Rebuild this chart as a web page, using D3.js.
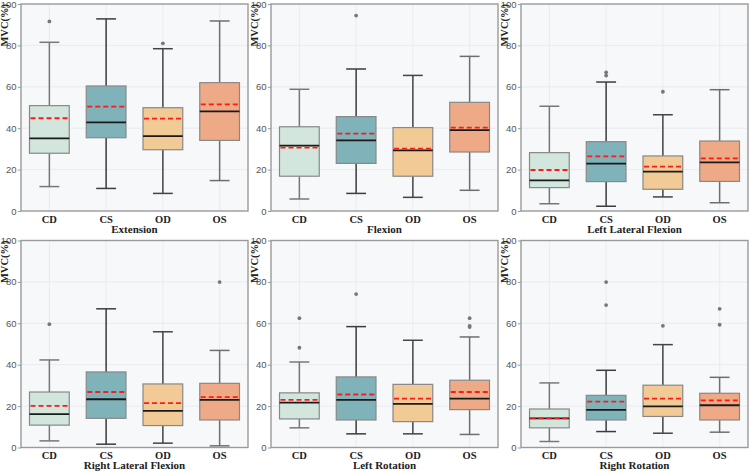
<!DOCTYPE html>
<html>
<head>
<meta charset="utf-8">
<script src="https://cdn.jsdelivr.net/npm/d3@7"></script>
<style>
  body { margin: 0; background: #fff; }
  .tick text { font-family: "Liberation Sans", Arial, sans-serif; font-size: 9.5px; fill: #555; }
  .catLb { font-family: "Liberation Serif", "Times New Roman", serif; font-weight: bold; font-size: 10.5px; fill: #222; }
  .titleLb { font-family: "Liberation Serif", "Times New Roman", serif; font-weight: bold; font-size: 11px; fill: #222; }
  .axisLb { font-family: "Liberation Serif", "Times New Roman", serif; font-weight: bold; font-size: 10.5px; fill: #222; }
</style>
</head>
<body>
<div id="main"></div>
<script>
// categories and panels
const groups = ["CD", "CS", "OD", "OS"];
const motions = ["Extension", "Flexion", "Left Lateral Flexion",
                 "Right Lateral Flexion", "Left Rotation", "Right Rotation"];
const yTicks = [0, 20, 40, 60, 80, 100];

// box statistics, one row per motion, one value per group (CD, CS, OD, OS)
const whiskerLow = [
  [11.8, 10.9, 8.5, 14.7],
  [5.8, 8.5, 6.6, 10.0],
  [3.5, 2.3, 6.8, 4.0],
  [3.2, 1.6, 2.1, 0.8],
  [9.5, 6.6, 6.6, 6.3],
  [2.9, 7.7, 6.9, 7.4]
];
const q1 = [
  [27.9, 35.4, 29.6, 34.1],
  [16.8, 23.0, 16.8, 28.5],
  [11.3, 14.2, 10.5, 14.3],
  [10.8, 14.1, 10.6, 13.3],
  [13.8, 13.3, 12.5, 18.3],
  [9.5, 13.3, 15.0, 13.3]
];
const medians = [
  [35.1, 42.8, 36.2, 48.1],
  [31.6, 34.1, 29.3, 39.1],
  [14.8, 22.9, 19.0, 23.5],
  [16.1, 23.3, 17.7, 23.0],
  [21.7, 23.0, 21.1, 23.6],
  [14.1, 18.2, 19.9, 20.4]
];
const q3 = [
  [50.9, 60.4, 49.9, 62.0],
  [40.7, 45.6, 40.3, 52.5],
  [28.2, 33.5, 26.6, 33.8],
  [26.8, 36.5, 30.7, 31.0],
  [26.4, 34.1, 30.5, 32.5],
  [18.6, 25.2, 30.1, 26.2]
];
const whiskerHigh = [
  [81.5, 92.8, 78.4, 91.8],
  [58.8, 68.6, 65.5, 74.7],
  [50.6, 62.3, 46.5, 58.6],
  [42.3, 67.0, 55.9, 46.9],
  [41.3, 58.4, 51.8, 53.4],
  [31.2, 37.3, 49.7, 33.9]
];
const means = [
  [44.8, 50.4, 44.6, 51.5],
  [30.6, 37.4, 30.1, 40.3],
  [19.8, 26.4, 21.4, 25.4],
  [20.1, 26.8, 21.4, 24.3],
  [23.0, 25.6, 23.6, 26.8],
  [14.1, 22.2, 23.6, 22.8]
];
const outliers = [
  [[91.6], [], [81.0], []],
  [[], [94.4], [], []],
  [[], [67.0, 65.4], [57.6], []],
  [[59.6], [], [], [79.9]],
  [[62.5, 48.2], [74.1], [], [62.5, 58.8, 58.2]],
  [[], [79.9, 68.8], [58.8], [67.0, 59.3]]
];

const ctx = {
  w: 750, h: 473,
  cellW: 250, cellH: 236.5,
  pad: {left: 21, right: 2, top: 4, bottom: 25.5},
  fills: ["#d3e6dd", "#7fb2b9", "#f1ca95", "#eeaa86"],
  lines: ["#777", "#3c3c3c", "#444", "#6e6e6e"]
};

function drawPanel(g, p){
  const pw = ctx.cellW - ctx.pad.left - ctx.pad.right;
  const ph = ctx.cellH - ctx.pad.top - ctx.pad.bottom;
  const xScale = d3.scaleBand().domain(groups).range([0, pw]).padding(0);
  const yScale = d3.scaleLinear().domain([0, 100]).range([ph, 0]);
  const plot = g.append("g").attr("transform", `translate(${ctx.pad.left},${ctx.pad.top})`);
  // background and grid
  plot.append("rect").attr("width", pw).attr("height", ph).attr("fill", "#f7f8fa");
  plot.append("g").selectAll("line").data(yTicks.slice(1, -1)).join("line")
    .attr("x1", 0).attr("x2", pw)
    .attr("y1", (d) => yScale(d)).attr("y2", (d) => yScale(d))
    .attr("stroke", "#e6e8ec").attr("stroke-width", 0.8);
  plot.append("g").selectAll("line").data(groups).join("line")
    .attr("x1", (d) => xScale(d) + xScale.bandwidth()/2)
    .attr("x2", (d) => xScale(d) + xScale.bandwidth()/2)
    .attr("y1", 0).attr("y2", ph)
    .attr("stroke", "#e6e8ec").attr("stroke-width", 0.8);
  // y axis
  const yAxis = plot.append("g").call(d3.axisLeft(yScale).tickValues(yTicks).tickSize(3).tickPadding(1.5));
  yAxis.select(".domain").remove();
  yAxis.selectAll(".tick line").attr("stroke", "#999");

  const bw = xScale.bandwidth() * 0.7;
  groups.forEach((gr, i) => {
    const cx = xScale(gr) + xScale.bandwidth()/2;
    const lc = ctx.lines[i];
    const bg = plot.append("g");
    // whiskers
    bg.append("line").attr("x1", cx).attr("x2", cx)
      .attr("y1", yScale(q3[p][i])).attr("y2", yScale(whiskerHigh[p][i]))
      .attr("stroke", lc).attr("stroke-width", 1.5);
    bg.append("line").attr("x1", cx).attr("x2", cx)
      .attr("y1", yScale(q1[p][i])).attr("y2", yScale(whiskerLow[p][i]))
      .attr("stroke", lc).attr("stroke-width", 1.5);
    [whiskerHigh[p][i], whiskerLow[p][i]].forEach((v) => {
      bg.append("line").attr("x1", cx - bw/4).attr("x2", cx + bw/4)
        .attr("y1", yScale(v)).attr("y2", yScale(v))
        .attr("stroke", lc).attr("stroke-width", 1.5);
    });
    // box
    bg.append("rect").attr("x", cx - bw/2).attr("width", bw)
      .attr("y", yScale(q3[p][i])).attr("height", yScale(q1[p][i]) - yScale(q3[p][i]))
      .attr("fill", ctx.fills[i]).attr("stroke", "#888").attr("stroke-width", 1.2);
    // median
    bg.append("line").attr("x1", cx - bw/2).attr("x2", cx + bw/2)
      .attr("y1", yScale(medians[p][i])).attr("y2", yScale(medians[p][i]))
      .attr("stroke", "#1a1a1a").attr("stroke-width", 1.8);
    // mean
    bg.append("line").attr("x1", cx - bw/2 + 1).attr("x2", cx + bw/2 - 1)
      .attr("y1", yScale(means[p][i])).attr("y2", yScale(means[p][i]))
      .attr("stroke", "#ff1a1a").attr("stroke-width", 1.8).attr("stroke-dasharray", "5,3");
    // outliers
    bg.selectAll("circle").data(outliers[p][i]).join("circle")
      .attr("cx", cx).attr("cy", (d) => yScale(d)).attr("r", 1.9)
      .attr("fill", "#777");
    // category label
    plot.append("text").attr("x", cx).attr("y", ph + 11.5)
      .attr("text-anchor", "middle").classed("catLb", true).text(gr);
  });
  // frame
  plot.append("rect").attr("width", pw).attr("height", ph)
    .attr("fill", "none").attr("stroke", "#9a9a9a").attr("stroke-width", 1.4);
  // motion title
  plot.append("text").attr("x", pw/2).attr("y", ph + 21.5)
    .attr("text-anchor", "middle").classed("titleLb", true).text(motions[p]);
  // y label
  g.append("text").attr("transform", `translate(8,${ctx.pad.top}) rotate(-90)`)
    .attr("text-anchor", "end").classed("axisLb", true).text("MVC(%)");
}

function createViz(){
  const svgEl = d3.select("#main").append("svg")
    .attr("width", ctx.w).attr("height", ctx.h);
  const rootG = svgEl.append("g").attr("id", "rootG");
  motions.forEach((m, p) => {
    const col = p % 3, row = Math.floor(p / 3);
    const g = rootG.append("g")
      .attr("transform", `translate(${col*ctx.cellW},${row*ctx.cellH})`);
    drawPanel(g, p);
  });
}

createViz();
</script>
</body>
</html>
